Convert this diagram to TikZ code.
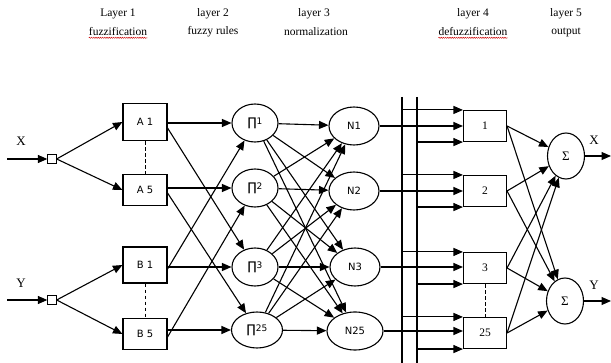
\documentclass[tikz,border=0pt]{standalone}
\usepackage{fontspec}
\setmainfont{Liberation Serif}
\newfontfamily\lblfont{DejaVu Sans}
\usetikzlibrary{arrows.meta,calc,shapes.geometric,decorations.pathmorphing}
\newcommand{\pilbl}[1]{{\lblfont\fontsize{12}{12}\selectfont ∏}\raisebox{1.5pt}{\lblfont\fontsize{9}{9}\selectfont #1}}
\begin{document}
\begin{tikzpicture}[x=1pt,y=-1pt,
  lw/.style={line width=1.1pt},
  arr/.style={draw, lw, -{Triangle[length=9.5pt,width=8pt]}},
  ln/.style={draw, lw},
  dsh/.style={draw, line width=0.8pt, dashed, dash pattern=on 3.5pt off 2.5pt},
  hdr/.style={inner sep=0pt, font=\fontsize{11.5}{13}\selectfont},
  wavy/.style={draw=red!80!black, line width=0.45pt, decorate, decoration={snake, amplitude=0.6pt, segment length=2.2pt}},
  sq/.style={draw, line width=0.8pt, minimum size=8.5pt, inner sep=0pt},
  abox/.style={draw, lw, rectangle, minimum width=44pt, minimum height=34pt, inner sep=0pt, font=\lblfont\fontsize{10}{12}\selectfont},
  pinode/.style={draw, lw, ellipse, minimum width=46pt, minimum height=38pt, inner sep=0pt},
  nnode/.style={draw, lw, ellipse, minimum width=50pt, minimum height=38pt, inner sep=0pt, font=\lblfont\fontsize{10}{12}\selectfont},
  dbox/.style={draw, lw, rectangle, minimum width=43pt, minimum height=31pt, inner sep=0pt, font=\fontsize{11.5}{13}\selectfont},
  snode/.style={draw, lw, ellipse, minimum width=37pt, minimum height=46pt, inner sep=0pt, font=\fontsize{13}{14}\selectfont},
  io/.style={inner sep=0pt, font=\fontsize{13}{14}\selectfont}
]
\useasboundingbox (0,0) rectangle (611,363);
\fill[white] (0,0) rectangle (611,363);

% headers
\node[hdr] (h1a) at (118,14) {Layer 1};
\node[hdr] (h1b) at (118,32) {fuzzification};
\node[hdr] (h2a) at (213,14) {layer 2};
\node[hdr] (h2b) at (213,32) {fuzzy rules};
\node[hdr] (h3a) at (314,14) {layer 3};
\node[hdr] (h3b) at (316,32) {normalization};
\node[hdr] (h4a) at (473,14) {layer 4};
\node[hdr] (h4b) at (473,32) {defuzzification};
\node[hdr] (h5a) at (566,14) {layer 5};
\node[hdr] (h5b) at (566,32) {output};
\path[wavy] ($(h1b.south west)+(0,1.5)$) -- ($(h1b.south east)+(0,1.5)$);
\path[wavy] ($(h4b.south west)+(0,1.5)$) -- ($(h4b.south east)+(0,1.5)$);

% inputs
\node[sq] (sqX) at (52,159) {};
\node[sq] (sqY) at (52,300) {};
\coordinate (inX) at (7,159);
\coordinate (inY) at (7,300);
\node[io] (lX) at (21,141) {X};
\node[io] (lY) at (21,283) {Y};
\path[arr] (inX) -- (sqX);
\path[arr] (inY) -- (sqY);

% layer 1
\node[abox, minimum height=37pt] (A1) at (145,122) {A 1};
\node[abox, minimum height=31pt] (A5) at (145,190) {A 5};
\node[abox, minimum height=36pt] (B1) at (145,265) {B 1};
\node[abox, minimum height=31pt] (B5) at (145,334) {B 5};
\path[dsh] (A1.south) -- (A5.north);
\path[dsh] (B1.south) -- (B5.north);
\path[arr] (sqX.east) -- (A1.west);
\path[arr] (sqX.east) -- (A5.west);
\path[arr] (sqY.east) -- (B1.west);
\path[arr] (sqY.east) -- (B5.west);

% layer 2
\node[pinode] (P1) at (255,123) {\pilbl{1}};
\node[pinode] (P2) at (255,188) {\pilbl{2}};
\node[pinode] (P3) at (255,267) {\pilbl{3}};
\node[pinode, minimum width=51pt, minimum height=36pt] (P25) at (257,330) {\pilbl{25}};

\path[arr] (A1.east |- P1) -- (P1.west);
\path[arr] (A5.east |- P2) -- (P2.west);
\path[arr] (B1.east |- P3) -- (P3.west);
\path[arr] (B5.east |- P25) -- (P25.west);
\path[arr] ($(A1.east)+(0,6)$) -- (P3);
\path[arr] ($(A5.east)+(0,3)$) -- (P25);
\path[arr] ($(B1.east)+(0,4)$) -- (P1);
\path[arr] ($(B5.east)+(0,3)$) -- (P2);

% layer 3
\node[nnode] (N1) at (354,126) {N1};
\node[nnode] (N2) at (354,191) {N2};
\node[nnode] (N3) at (355,267) {N3};
\node[nnode, minimum width=56pt] (N25) at (355,331) {N25};

\foreach \p in {P1,P2,P3,P25}{
  \foreach \n in {N1,N2,N3,N25}{
    \path[arr] (\p) -- (\n);
  }
}

% bus lines
\coordinate (v1t) at (402,97);
\coordinate (v1b) at (402,363);
\coordinate (v2t) at (417,97);
\coordinate (v2b) at (417,363);
\path[ln] (v1t) -- (v1b);
\path[ln] (v2t) -- (v2b);

% layer 4
\node[dbox] (D1) at (485,126) {1};
\node[dbox] (D2) at (485,191) {2};
\node[dbox] (D3) at (485,268) {3};
\node[dbox] (D25) at (485,333) {25};
\path[dsh] (D3.south) -- (D25.north);

\foreach \d/\n in {D1/N1,D2/N2,D3/N3,D25/N25}{
  \path[arr] (v1t |- \d.north west) -- (\d.north west);
  \path[arr] (\n.east) -- (\d.west |- \n.east);
  \path[arr] (v2t |- \d.south west) -- (\d.south west);
}

% layer 5
\node[snode] (S1) at (566,156) {Σ};
\node[snode] (S2) at (565,301) {Σ};
\foreach \d in {D1,D2,D3,D25}{
  \path[arr] (\d.east) -- (S1);
  \path[arr] (\d.east) -- (S2);
}
\coordinate (oX) at (611,156);
\coordinate (oY) at (611,301);
\path[arr] (S1.east) -- (oX);
\path[arr] (S2.east) -- (oY);
\node[io] (rX) at (594,140) {X};
\node[io] (rY) at (594,285) {Y};
\end{tikzpicture}
\end{document}
